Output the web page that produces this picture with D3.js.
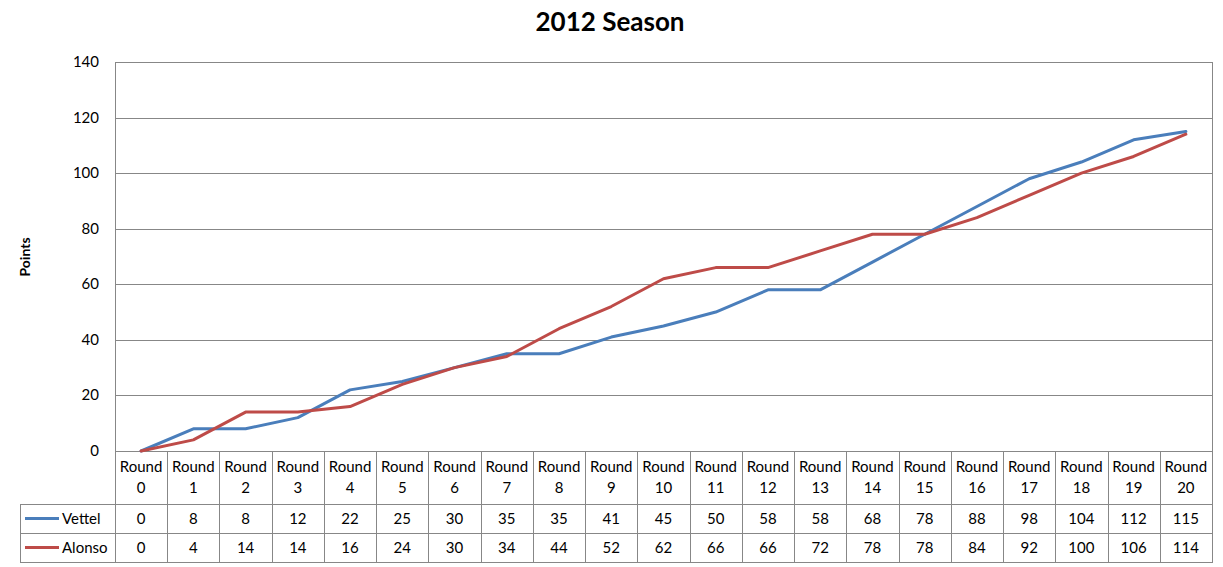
<!DOCTYPE html>
<html><head><meta charset="utf-8">
<script src="https://cdn.jsdelivr.net/npm/d3@7"></script>
<style>body{margin:0;background:#fff;} text{font-family:Lato,"Open Sans",sans-serif;}</style>
</head><body><svg id="c" width="1223" height="567"></svg>
<script>
const categories = d3.range(0,21).map(i => "Round " + i);
const vettel = [0,8,8,12,22,25,30,35,35,41,45,50,58,58,68,78,88,98,104,112,115];
const alonso = [0,4,14,14,16,24,30,34,44,52,62,66,66,72,78,78,84,92,100,106,114];
const yTicks = [0,20,40,60,80,100,120,140];
const series = [
  {name:"Vettel", values:vettel, color:"#4A7EBB"},
  {name:"Alonso", values:alonso, color:"#BE4B48"}
];

const svg = d3.select("#c");
const L=115, R=1212, T=62, B=451;
const grid="#878787";
const x = d3.scaleBand().domain(categories).range([L,R]);
const y = d3.scaleLinear().domain([0,140]).range([B,T]);

svg.append("text").attr("x",610).attr("y",31).attr("text-anchor","middle")
  .attr("font-size",26).attr("font-weight","bold").text("2012 Season");

// gridlines
svg.append("g").selectAll("line").data(yTicks).join("line")
  .attr("x1",L).attr("x2",R).attr("y1",d=>Math.round(y(d))+0.5).attr("y2",d=>Math.round(y(d))+0.5)
  .attr("stroke",grid);
svg.append("line").attr("x1",L+0.5).attr("x2",L+0.5).attr("y1",T).attr("y2",B).attr("stroke",grid);
svg.append("line").attr("x1",R+0.5).attr("x2",R+0.5).attr("y1",T).attr("y2",B).attr("stroke",grid);

// y labels
svg.append("g").selectAll("text").data(yTicks).join("text")
  .attr("x",99).attr("y",d=>y(d)+5).attr("text-anchor","end").attr("font-size",15).text(d=>d);
svg.append("text").attr("transform","translate(30,257) rotate(-90)").attr("text-anchor","middle")
  .attr("font-size",14).attr("font-weight","bold").text("Points");

// lines
const line = d3.line().x((d,i)=>x(categories[i])+x.bandwidth()/2).y(d=>y(d));
series.forEach(s=>{
  svg.append("path").attr("d",line(s.values)).attr("fill","none").attr("stroke",s.color)
    .attr("stroke-width",3).attr("stroke-linejoin","round").attr("stroke-linecap","round");
});

// table
const hdrB=504, rowH=29, tabL=20;
const tg = svg.append("g").attr("stroke",grid).attr("shape-rendering","crispEdges");
categories.forEach((c,i)=>{
  const xx = Math.round(x(c))+0.5;
  tg.append("line").attr("x1",xx).attr("x2",xx).attr("y1",B).attr("y2",hdrB+2*rowH);
});
tg.append("line").attr("x1",R+0.5).attr("x2",R+0.5).attr("y1",B).attr("y2",hdrB+2*rowH);
tg.append("line").attr("x1",tabL+0.5).attr("x2",tabL+0.5).attr("y1",hdrB).attr("y2",hdrB+2*rowH);
[hdrB, hdrB+rowH, hdrB+2*rowH].forEach(yy=>{
  tg.append("line").attr("x1",tabL).attr("x2",R+1).attr("y1",yy+0.5).attr("y2",yy+0.5);
});

// header labels
categories.forEach(c=>{
  const cx = x(c)+x.bandwidth()/2;
  const parts = c.split(" ");
  svg.append("text").attr("x",cx).attr("y",472).attr("text-anchor","middle").attr("font-size",15).text(parts[0]);
  svg.append("text").attr("x",cx).attr("y",493).attr("text-anchor","middle").attr("font-size",15).text(parts[1]);
});
// rows
series.forEach((s,r)=>{
  const yy = hdrB + r*rowH + rowH/2;
  svg.append("line").attr("x1",25).attr("x2",59).attr("y1",yy).attr("y2",yy).attr("stroke",s.color).attr("stroke-width",3);
  svg.append("text").attr("x",62).attr("y",yy+5).attr("font-size",15).text(s.name);
  s.values.forEach((v,i)=>{
    svg.append("text").attr("x",x(categories[i])+x.bandwidth()/2).attr("y",yy+5)
      .attr("text-anchor","middle").attr("font-size",15).text(v);
  });
});
</script></body></html>
